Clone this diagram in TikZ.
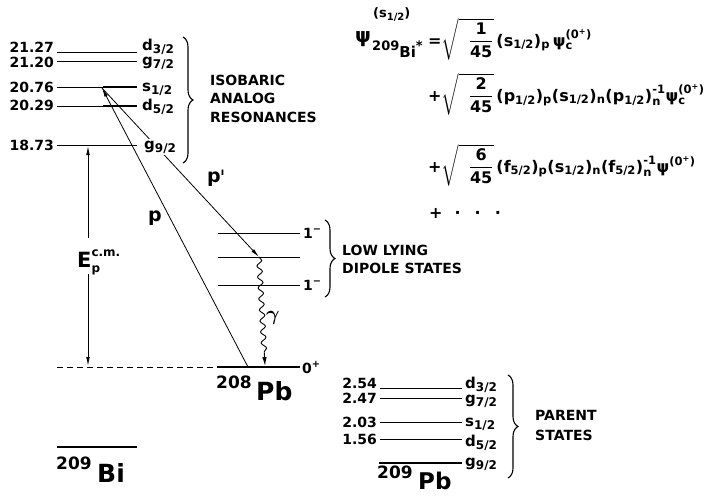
\documentclass[tikz,border=0pt]{standalone}
\usepackage{fontspec}
\setmainfont{DejaVu Sans}
\usepackage{amsmath}
\usepackage{bm}
\usetikzlibrary{decorations.pathreplacing,decorations.pathmorphing,arrows.meta}
\DeclareMathSizes{16}{16}{11.5}{9}
\DeclareMathSizes{21}{21}{12}{9}
\newcommand{\orb}[2]{#1\raisebox{-0.4ex}{\fontsize{12}{12}\selectfont #2}}
\newcommand{\T}[1]{\text{#1}}
\begin{document}
\begin{tikzpicture}[x=1pt,y=-1pt,
  every node/.style={inner sep=0pt},
  lev/.style={line width=1pt},
  dbl/.style={double, double distance=0.9pt, line width=0.6pt},
  heavy/.style={line width=2.4pt},
  brc/.style={decorate, decoration={brace, amplitude=10pt}, line width=1.1pt},
  arr/.style={line width=0.8pt, -{Latex[length=9pt,width=3.6pt]}},
  num/.style={font=\bfseries\fontsize{14}{14}\selectfont, anchor=base east},
  orbl/.style={font=\bfseries\fontsize{15}{15}\selectfont, anchor=base west},
  captxt/.style={font=\bfseries\fontsize{14}{14}\selectfont, anchor=base west},
  eq/.style={font=\bfseries\fontsize{16}{18}\selectfont, anchor=base west},
  big/.style={font=\bfseries\fontsize{19}{19}\selectfont, anchor=base west},
]
\useasboundingbox (0,0) rectangle (708,496);

% ---------- 209Bi analog resonances ----------
\draw[dbl] (57,53) -- (137,53);
\draw[dbl] (57,62) -- (137,62);
\draw[lev] (57,87) -- (137,87);
\draw[line width=1.8pt] (103,87) -- (137,87);
\draw[lev] (57,106) -- (137,106);
\draw[line width=1.8pt] (103,106) -- (137,106);
\draw[line width=0.9pt] (57,145) -- (137,145);

\node[num] (n1) at (54,52) {21.27};
\node[num] (n2) at (54,67) {21.20};
\node[num] (n3) at (54,92) {20.76};
\node[num] (n4) at (54,110) {20.29};
\node[num] (n5) at (54,150) {18.73};

\node[orbl] (o1) at (142,50) {\orb{d}{3/2}};
\node[orbl] (o2) at (142,65) {\orb{g}{7/2}};
\node[orbl] (o3) at (142,91) {\orb{s}{1/2}};
\node[orbl] (o4) at (142,110) {\orb{d}{5/2}};

% transitions
\coordinate (S) at (102,88);
\coordinate (pb) at (248,367);
\coordinate (D) at (259,257);
\coordinate (G) at (265,366);
\draw[arr] (S) -- (D);
\draw[arr] (pb) -- (S);
\node[orbl, fill=white, inner sep=2pt] (o5) at (142,149) {\orb{g}{9/2}};

\draw[brc] (183,37) -- (183,163);
\node[captxt] (iar1) at (210,85) {ISOBARIC};
\node[captxt] (iar2) at (210,103) {ANALOG};
\node[captxt] (iar3) at (210,122) {RESONANCES};

% E_p arrow
\coordinate (Etop) at (88,146);
\coordinate (Ebot) at (88,366);
\draw[arr] (88,238) -- (Etop);
\draw[arr] (88,274) -- (Ebot);
\node[anchor=base west, font=\bfseries\fontsize{21}{21}\selectfont] (ep) at (77,267) {$\T{E}^{\T{c.m.}}_{\T{p}}$};

% ground levels
\draw[line width=1pt, dash pattern=on 6pt off 4pt] (57,367) -- (217,367);
\draw[heavy] (217,367) -- (300,367);
\node[anchor=base west, font=\bfseries\fontsize{14}{14}\selectfont] (gs) at (302,373) {0\textsuperscript{+}};
\node[anchor=base west, font=\bfseries\fontsize{17}{17}\selectfont] (pb208a) at (216,388) {208};
\node[anchor=base west, font=\bfseries\fontsize{25}{25}\selectfont] (pb208b) at (256,400) {Pb};

\draw[heavy] (57,447) -- (137,447);
\node[anchor=base west, font=\bfseries\fontsize{17}{17}\selectfont] (bi209a) at (56,469) {209};
\node[anchor=base west, font=\bfseries\fontsize{25}{25}\selectfont] (bi209b) at (97,482) {Bi};

% labels p, p'
\node[big] (lp) at (148,221) {p};
\node[big] (lpp) at (207,182) {p\raisebox{7pt}{\fontsize{10}{10}\selectfont ı}};

% dipole states
\draw[lev] (218,233) -- (300,233);
\draw[lev] (218,257) -- (300,257);
\draw[lev] (218,285) -- (300,285);
\node[anchor=base west, font=\bfseries\fontsize{14}{14}\selectfont] (d1) at (303,238) {1\textsuperscript{−}};
\node[anchor=base west, font=\bfseries\fontsize{14}{14}\selectfont] (d3) at (303,290) {1\textsuperscript{−}};
\draw[brc] (325,220) -- (325,297);
\node[captxt] (lld1) at (342,255) {LOW LYING};
\node[captxt] (lld2) at (342,273) {DIPOLE STATES};

\draw[line width=0.9pt, decorate, decoration={snake, amplitude=2.6pt, segment length=11pt, post length=9pt}, -{Latex[length=9pt,width=4.5pt]}] (D) -- (G);
\node[font=\fontsize{20}{20}\selectfont] (gam) at (273,318) {$\bm{\gamma}$};

% ---------- 209Pb parent states ----------
\draw[lev] (380,388) -- (462,388);
\draw[lev] (380,398) -- (462,398);
\draw[lev] (380,422) -- (462,422);
\draw[lev] (380,439) -- (462,439);
\draw[line width=2pt] (379,463) -- (462,463);
\node[num] (m1) at (377,388) {2.54};
\node[num] (m2) at (377,403) {2.47};
\node[num] (m3) at (377,427) {2.03};
\node[num] (m4) at (377,444) {1.56};
\node[orbl] (q1) at (465,388) {\orb{d}{3/2}};
\node[orbl] (q2) at (465,403) {\orb{g}{7/2}};
\node[orbl] (q3) at (465,426) {\orb{s}{1/2}};
\node[orbl] (q4) at (465,446) {\orb{d}{5/2}};
\node[orbl] (q5) at (465,466) {\orb{g}{9/2}};
\draw[brc] (508,375) -- (508,478);
\node[captxt] (ps1) at (535,420) {PARENT};
\node[captxt] (ps2) at (535,440) {STATES};
\node[anchor=base west, font=\bfseries\fontsize{17}{17}\selectfont] (pb209a) at (377,478) {209};
\node[anchor=base west, font=\bfseries\fontsize{23}{23}\selectfont] (pb209b) at (418,489) {Pb};

% ---------- wave function ----------
\node[anchor=base west, font=\bfseries\fontsize{20}{20}\selectfont] (psi) at (355,42) {ψ};
\node[anchor=base west, font=\bfseries\fontsize{13}{13}\selectfont] (psisup) at (373,17) {(s\raisebox{-3pt}{\fontsize{10}{10}\selectfont 1/2})};
\node[anchor=base west, font=\bfseries\fontsize{13}{13}\selectfont] (psisub) at (372,50) {209\raisebox{-7pt}{\fontsize{15}{15}\selectfont Bi}*};
\node[eq] (eq1) at (428,46) {$\T{=}\sqrt{\hspace{10pt}\dfrac{\T{1}}{\T{45}}}\,\T{(s}_{\T{1/2}}\T{)}_{\T{p}}\,\T{ψ}_{\T{c}}^{\T{(0\textsuperscript{+})}}$};
\node[eq] (eq2) at (428,101) {$\T{+}\sqrt{\hspace{10pt}\dfrac{\T{2}}{\T{45}}}\,\T{(p}_{\T{1/2}}\T{)}_{\T{p}}\T{(s}_{\T{1/2}}\T{)}_{\T{n}}\T{(p}_{\T{1/2}}\T{)}^{\T{-1}}_{\T{n}}\T{ψ}_{\T{c}}^{\T{(0\textsuperscript{+})}}$};
\node[eq] (eq3) at (428,172) {$\T{+}\sqrt{\hspace{10pt}\dfrac{\T{6}}{\T{45}}}\,\T{(f}_{\T{5/2}}\T{)}_{\T{p}}\T{(s}_{\T{1/2}}\T{)}_{\T{n}}\T{(f}_{\T{5/2}}\T{)}^{\T{-1}}_{\T{n}}\T{ψ}^{\T{(0\textsuperscript{+})}}$};
\node[eq] (eq4) at (429,218) {+\hspace{12pt}·\hspace{14pt}·\hspace{14pt}·};
\end{tikzpicture}
\end{document}
